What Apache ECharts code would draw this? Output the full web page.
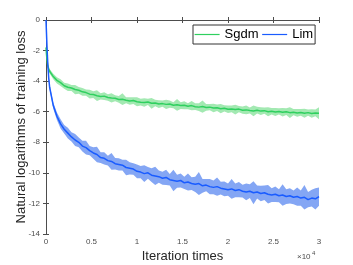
<!DOCTYPE html>
<html>
<head>
<meta charset="utf-8">
<script src="https://cdn.jsdelivr.net/npm/echarts@6/dist/echarts.min.js"></script>
<style>
html,body{margin:0;padding:0;background:#fff;}
#c{width:353px;height:265px;}
</style>
</head>
<body>
<div id="c"></div>
<script>
// Iteration numbers
var iters = [0,50,100,150,200,300,400,
800,1200,1600,2000,2400,2800,3200,3600,4000,4400,4800,5200,5600,6000,6400,6800,7200,7600,8000,8400,8800,9200,9600,10000,
10400,10800,11200,11600,12000,12400,12800,13200,13600,14000,14400,14800,15200,15600,16000,16400,16800,17200,17600,18000,18400,18800,19200,19600,20000,
20400,20800,21200,21600,22000,22400,22800,23200,23600,24000,24400,24800,25200,25600,26000,26400,26800,27200,27600,28000,28400,28800,29200,29600,30000];

// Sgdm: mean log loss and half band width
var sgdmMean = [-1.8,-2.2,-2.55,-2.8,-3.0,-3.2,-3.35,
-3.7,-3.95,-4.1,-4.3,-4.4,-4.45,-4.55,-4.6,-4.7,-4.75,-4.85,-4.88,-4.95,-5.0,-4.98,-5.07,-5.1,-5.12,-5.2,-5.18,-5.25,-5.3,-5.27,-5.35,
-5.38,-5.4,-5.36,-5.45,-5.43,-5.5,-5.47,-5.52,-5.5,-5.58,-5.55,-5.6,-5.58,-5.64,-5.6,-5.67,-5.7,-5.66,-5.72,-5.7,-5.76,-5.74,-5.8,-5.78,-5.84,
-5.82,-5.86,-5.83,-5.9,-5.88,-5.92,-5.95,-5.9,-5.96,-5.93,-6.0,-5.97,-6.02,-5.98,-6.04,-6.0,-6.06,-6.03,-6.08,-6.05,-6.1,-6.06,-6.12,-6.08,-6.1];
var sgdmSpread = [0.05,0.08,0.1,0.12,0.12,0.15,0.15,
0.18,0.2,0.22,0.2,0.25,0.2,0.3,0.22,0.25,0.2,0.28,0.22,0.35,0.2,0.25,0.22,0.3,0.2,0.22,0.38,0.2,0.25,0.22,0.3,
0.22,0.28,0.2,0.35,0.22,0.25,0.2,0.3,0.24,0.2,0.38,0.22,0.26,0.2,0.3,0.22,0.25,0.4,0.22,0.2,0.28,0.22,0.3,0.2,0.25,
0.22,0.32,0.2,0.24,0.28,0.2,0.35,0.22,0.25,0.2,0.3,0.22,0.26,0.2,0.28,0.22,0.35,0.2,0.25,0.22,0.3,0.2,0.28,0.22,0.4];

// Lim: mean log loss and half band width
var limMean = [0,-0.8,-1.6,-2.3,-2.9,-3.8,-4.4,
-5.6,-6.3,-6.8,-7.15,-7.4,-7.65,-7.85,-8.0,-8.25,-8.35,-8.55,-8.7,-8.8,-9.0,-9.05,-9.2,-9.25,-9.4,-9.45,-9.5,-9.65,-9.7,-9.75,-9.9,
-9.95,-10.05,-10.0,-10.15,-10.2,-10.25,-10.35,-10.3,-10.45,-10.5,-10.55,-10.5,-10.65,-10.6,-10.7,-10.75,-10.7,-10.85,-10.8,-10.9,-10.95,-10.9,-11.0,-11.05,-11.1,
-11.05,-11.15,-11.1,-11.2,-11.25,-11.2,-11.3,-11.25,-11.35,-11.3,-11.4,-11.45,-11.4,-11.5,-11.45,-11.55,-11.5,-11.6,-11.55,-11.65,-11.6,-11.75,-11.65,-11.7,-11.55];
var limSpread = [0.02,0.05,0.08,0.1,0.12,0.15,0.15,
0.2,0.25,0.3,0.28,0.35,0.3,0.4,0.32,0.35,0.45,0.3,0.38,0.5,0.35,0.4,0.32,0.55,0.38,0.4,0.35,0.5,0.4,0.38,0.45,
0.4,0.55,0.38,0.45,0.6,0.4,0.42,0.5,0.38,0.7,0.42,0.45,0.4,0.55,0.42,0.5,0.75,0.45,0.4,0.5,0.45,0.6,0.42,0.48,0.4,
0.65,0.45,0.5,0.42,0.55,0.45,0.75,0.42,0.5,0.48,0.6,0.45,0.5,0.42,0.7,0.48,0.5,0.45,0.6,0.5,0.8,0.5,0.55,0.7,0.6];

var yTicks = [-14,-12,-10,-8,-6,-4,-2,0];
var xTickLabels = ['0','0.5','1','1.5','2','2.5','3'];

var FONT = "'Liberation Sans', Arial, Helvetica, sans-serif";
var AX = '#4d4d4d';

function pairs(vals){ return iters.map(function(x,i){ return [x, vals[i]]; }); }

function bandSeries(mean, spread, fill){
  return {
    type: 'custom', silent: true, z: 1, clip: true,
    data: iters.map(function(x,i){ return [x, mean[i]-spread[i], mean[i]+spread[i]]; }),
    encode: {x: 0, y: [1, 2]},
    renderItem: function(params, api){
      if (params.dataIndex !== 0) return null;
      var up = [], lo = [];
      for (var i = 0; i < iters.length; i++) {
        up.push(api.coord([iters[i], mean[i] + spread[i]]));
        lo.push(api.coord([iters[i], mean[i] - spread[i]]));
      }
      return {type: 'polygon', shape: {points: up.concat(lo.reverse())}, style: {fill: fill}};
    }
  };
}

var chart = echarts.init(document.getElementById('c'), null, {renderer: 'canvas'});
chart.setOption({
  animation: false,
  backgroundColor: '#fff',
  textStyle: {fontFamily: FONT},
  grid: {left: 46, right: 34, top: 20, bottom: 31, containLabel: false, outerBoundsMode: 'none'},
  legend: {
    data: ['Sgdm', 'Lim'],
    left: 193, top: 25,
    orient: 'horizontal',
    itemWidth: 25, itemHeight: 14, itemGap: 3,
    padding: [3, 2, 3, 1],
    borderColor: '#333', borderWidth: 1, backgroundColor: '#fff',
    itemStyle: {opacity: 0},
    lineStyle: {width: 1.2},
    textStyle: {fontSize: 13, color: '#000', fontFamily: FONT}
  },
  xAxis: [{
    type: 'value', min: 0, max: 30000, interval: 5000, position: 'bottom',
    name: 'Iteration times', nameLocation: 'middle', nameGap: 16, nameMoveOverlap: false,
    nameTextStyle: {fontSize: 13, color: '#262626', fontFamily: FONT},
    axisLine: {show: true, lineStyle: {color: AX, width: 1}},
    axisTick: {show: true, inside: true, length: 3, lineStyle: {color: AX}},
    axisLabel: {fontSize: 8, color: '#4d4d4d', margin: 4, fontFamily: FONT,
      formatter: function(v){ return xTickLabels[Math.round(v/5000)]; }},
    splitLine: {show: false}
  }, {
    type: 'value', min: 0, max: 30000, interval: 5000, position: 'top',
    axisLine: {show: true, lineStyle: {color: AX, width: 1}},
    axisTick: {show: true, inside: true, length: 3, lineStyle: {color: AX}},
    axisLabel: {show: false}, splitLine: {show: false}
  }],
  yAxis: [{
    type: 'value', min: -14, max: 0, interval: 2, position: 'left',
    name: 'Natural logarithms of training loss', nameLocation: 'middle', nameGap: 18, nameRotate: 90, nameMoveOverlap: false,
    nameTextStyle: {fontSize: 13, color: '#262626', fontFamily: FONT},
    axisLine: {show: true, lineStyle: {color: AX, width: 1}},
    axisTick: {show: true, inside: true, length: 3, lineStyle: {color: AX}},
    axisLabel: {fontSize: 8, color: '#4d4d4d', margin: 6, fontFamily: FONT,
      formatter: function(v){ return String(yTicks[Math.round((v+14)/2)]); }},
    splitLine: {show: false}
  }, {
    type: 'value', min: -14, max: 0, interval: 2, position: 'right',
    axisLine: {show: true, lineStyle: {color: AX, width: 1}},
    axisTick: {show: true, inside: true, length: 3, lineStyle: {color: AX}},
    axisLabel: {show: false}, splitLine: {show: false}
  }],
  series: [
    bandSeries(sgdmMean, sgdmSpread, '#a3e9b2'),
    bandSeries(limMean, limSpread, '#84a6f4'),
    {name: 'Sgdm', type: 'line', data: pairs(sgdmMean), symbol: 'none',
      lineStyle: {color: '#2fd05f', width: 1.5}, itemStyle: {color: '#2fd05f'}, z: 3},
    {name: 'Lim', type: 'line', data: pairs(limMean), symbol: 'none',
      lineStyle: {color: '#1a5cff', width: 1.5}, itemStyle: {color: '#1a5cff'}, z: 3}
  ],
  graphic: [
    {type: 'text', left: 297, top: 253, style: {text: '×10', fontSize: 8, fill: '#4d4d4d', fontFamily: FONT}},
    {type: 'text', left: 312, top: 250, style: {text: '4', fontSize: 6, fill: '#4d4d4d', fontFamily: FONT}}
  ]
});
</script>
</body>
</html>
